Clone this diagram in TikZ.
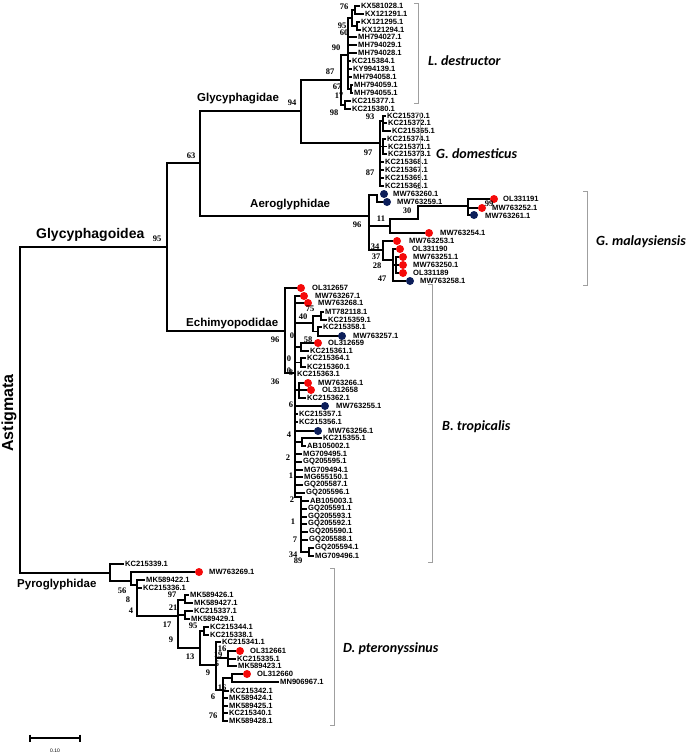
\documentclass[tikz,border=0pt]{standalone}
\usepackage{fontspec}
\setmainfont{Liberation Sans}
\newfontfamily\bsfont{Liberation Serif}
\newfontfamily\spfont{Carlito}
\definecolor{rdc}{RGB}{245,10,10}
\definecolor{bdc}{RGB}{12,30,90}
\newcounter{lfc}
\newcounter{bvc}
\newcommand\lf[3]{\stepcounter{lfc}\node[acc] (leaf\arabic{lfc}) at (#1,#2) {#3};}
\newcommand\bv[3]{\stepcounter{bvc}\node[bsl] (bv\arabic{bvc}) at (#1,#2) {#3};}
\newcommand\rd[2]{\fill[rdc] (#1,#2) circle[radius=4];}
\newcommand\bd[2]{\fill[bdc] (#1,#2) circle[radius=4];}
\begin{document}
\begin{tikzpicture}[x=1pt,y=-1pt,
  tr/.style={line width=1.2pt,line cap=rect},
  cb/.style={line width=2.3pt,line cap=rect},
  acc/.style={anchor=west,inner sep=0pt,font=\fontsize{7.6}{8}\selectfont\bfseries},
  bsl/.style={inner sep=0pt,font=\bsfont\fontsize{8.5}{9}\selectfont\bfseries},
  cl/.style={anchor=base west,inner sep=0pt,font=\fontsize{11.5}{12}\selectfont\bfseries},
  sp/.style={anchor=base west,inner sep=0pt,font=\spfont\fontsize{14}{15}\selectfont\bfseries\itshape},
  br/.style={draw=gray!75,line width=0.9pt}]
\useasboundingbox (0,0) rectangle (690,756);
\fill[white] (0,0) rectangle (690,756);

% ---------- backbone ----------
\draw[tr] (167,247) -- (20,247) -- (20,573) -- (110,573);
\draw[tr] (200,163) -- (167,163) -- (167,331) -- (285,331);
\draw[tr] (301,111) -- (200,111) -- (200,216) -- (369,216);
\draw[tr] (341,80) -- (301,80) -- (301,143) -- (380,143);

\node[cl,font=\fontsize{14}{15}\selectfont\bfseries] (glycoidea) at (36,238) {Glycyphagoidea};
\node[cl] (glycidae) at (197,101) {Glycyphagidae};
\node[cl] (aero) at (250,207) {Aeroglyphidae};
\node[cl] (echim) at (186,326) {Echimyopodidae};
\node[cl] (pyro) at (17,587) {Pyroglyphidae};
\node[inner sep=0pt,rotate=90,font=\fontsize{16}{17}\selectfont\bfseries] (astig) at (9,413) {Astigmata};
\bv{157}{239}{95}
\bv{191}{156}{63}
\bv{292}{103}{94}

% ---------- L. destructor ----------
\draw[tr] (341,55) -- (341,105);
\draw[tr] (341,55) -- (348,55);
\draw[tr] (348,18) -- (348,89);
\draw[cb] (348,62) -- (348,89);
\draw[tr] (348,18) -- (352,18) (352,10) -- (352,26);
\draw[tr] (352,10) -- (355,10) (355,6) -- (355,14) (355,6) -- (359,6) (355,14) -- (363,14);
\draw[tr] (352,26) -- (357,26);
\draw[cb] (357,22) -- (357,30);
\draw[tr] (357,22) -- (359,22) (357,30) -- (360,30);
\draw[tr] (348,37) -- (356,37) (348,45) -- (356,45) (348,53) -- (356,53);
\draw[tr] (348,61) -- (350,61) (348,69) -- (351,69) (348,77) -- (351,77);
\draw[tr] (348,89) -- (351,89) (351,85) -- (351,93) (351,85) -- (352,85) (351,93) -- (352,93);
\draw[tr] (341,105) -- (345,105) (345,101) -- (345,109) (345,101) -- (350,101) (345,109) -- (350,109);
\lf{361}{6}{KX581028.1}
\lf{365}{14}{KX121291.1}
\lf{361}{22}{KX121295.1}
\lf{362}{30}{KX121294.1}
\lf{358}{37}{MH794027.1}
\lf{358}{45}{MH794029.1}
\lf{358}{53}{MH794028.1}
\lf{352}{61}{KC215384.1}
\lf{353}{69}{KY994139.1}
\lf{353}{77}{MH794058.1}
\lf{354}{85}{MH794059.1}
\lf{354}{93}{MH794055.1}
\lf{352}{101}{KC215377.1}
\lf{352}{109}{KC215380.1}
\bv{344}{7}{76}
\bv{342}{26}{95}
\bv{344}{33}{60}
\bv{336}{48}{90}
\bv{330}{72}{87}
\bv{337}{87}{67}
\bv{339}{96}{17}
\bv{334}{113}{98}

% ---------- G. domesticus ----------
\draw[tr] (380,121) -- (380,186);
\draw[tr] (380,121) -- (383,121) (383,116) -- (383,131);
\draw[tr] (383,116) -- (385,116) (383,123) -- (386,123) (383,131) -- (390,131);
\draw[tr] (380,146.5) -- (383,146.5);
\draw[cb] (383,139) -- (383,154);
\draw[tr] (383,139) -- (385,139) (383,146.5) -- (386,146.5) (383,154) -- (386,154);
\draw[tr] (380,162) -- (383,162) (380,170) -- (383,170) (380,178) -- (383,178) (380,186) -- (383,186);
\lf{387}{116}{KC215370.1}
\lf{388}{123}{KC215372.1}
\lf{392}{131}{KC215365.1}
\lf{387}{139}{KC215374.1}
\lf{388}{146.5}{KC215371.1}
\lf{388}{154}{KC215373.1}
\lf{385}{162}{KC215368.1}
\lf{385}{170}{KC215367.1}
\lf{385}{178}{KC215369.1}
\lf{385}{186}{KC215366.1}
\bv{370}{117}{93}
\bv{368}{153}{97}
\bv{370}{173}{87}

% ---------- Aeroglyphidae ----------
\draw[tr] (369,195) -- (369,250);
\draw[tr] (369,195) -- (377,195) (377,195) -- (377,202) (377,202) -- (383,202);
\draw[tr] (369,226) -- (390,226) (390,219) -- (390,233);
\draw[tr] (390,219) -- (418,219) (418,206) -- (418,219);
\draw[tr] (418,206) -- (468,206) (468,199) -- (468,215);
\draw[tr] (468,199) -- (489,199) (468,208) -- (477,208) (468,215) -- (470,215);
\draw[tr] (390,233) -- (424,233);
\draw[tr] (369,250) -- (383,250) (383,241) -- (383,260) (383,241) -- (392,241);
\draw[tr] (383,260) -- (393,260) (393,249) -- (393,281) (393,249) -- (395,249);
\draw[tr] (393,265) -- (396,265) (396,257) -- (396,273);
\draw[tr] (396,257) -- (398,257) (396,265) -- (398,265) (396,273) -- (398,273);
\draw[tr] (393,281) -- (405,281);
\bd{384}{194} \bd{387}{202}
\rd{494}{199} \rd{482}{208} \bd{474}{215}
\rd{429}{233} \rd{397}{241} \rd{400}{249}
\rd{403}{257} \rd{403}{265} \rd{403}{273} \bd{410}{281}
\lf{393}{194}{MW763260.1}
\lf{397}{202}{MW763259.1}
\lf{503}{199}{OL331191}
\lf{492}{208}{MW763252.1}
\lf{485}{216}{MW763261.1}
\lf{440}{233}{MW763254.1}
\lf{409}{241}{MW763253.1}
\lf{412}{249}{OL331190}
\lf{413}{257}{MW763251.1}
\lf{413}{265}{MW763250.1}
\lf{413}{273}{OL331189}
\lf{420}{281}{MW763258.1}
\bv{407}{211}{30}
\bv{489}{204}{99}
\bv{381}{219}{11}
\bv{357}{225}{96}
\bv{375}{247}{34}
\bv{376}{257}{37}
\bv{377}{266}{28}
\bv{382}{279}{47}

% ---------- B. tropicalis ----------
\draw[tr] (285,288) -- (285,373);
\draw[tr] (285,288) -- (297,288);
\draw[tr] (285,373) -- (295,373);
\draw[tr] (295,296) -- (295,497);
\draw[cb] (295,335) -- (295,497);
\draw[tr] (295,296) -- (300,296) (295,303) -- (304,303);
\draw[tr] (295,323) -- (313,323) (313,316) -- (313,331.5);
\draw[tr] (313,316) -- (321,316) (321,312) -- (321,320) (321,312) -- (323,312) (321,320) -- (326,320);
\draw[tr] (313,331.5) -- (318,331.5) (318,327) -- (318,336) (318,327) -- (321,327) (318,336) -- (338,336);
\draw[tr] (295,347) -- (301,347) (301,343) -- (301,351) (301,343) -- (314,343) (301,351) -- (308,351);
\draw[tr] (295,362.5) -- (301,362.5) (301,358) -- (301,367) (301,358) -- (305,358) (301,367) -- (305,367);
\draw[tr] (295,390) -- (299,390) (299,383) -- (299,398) (299,383) -- (304,383) (299,390) -- (307,390) (299,398) -- (305,398);
\draw[tr] (295,406) -- (321,406);
\draw[tr] (295,414) -- (297,414) (295,422) -- (297,422);
\draw[tr] (295,431) -- (314,431);
\draw[tr] (295,442) -- (302,442) (302,438) -- (302,446) (302,438) -- (321,438) (302,446) -- (305,446);
\draw[tr] (295,454) -- (301,454) (295,462) -- (301,462) (295,470) -- (302,470) (295,477) -- (302,477) (295,485) -- (302,485) (295,493) -- (304,493);
\draw[tr] (295,497) -- (301,497);
\draw[cb] (301,497) -- (301,552);
\draw[tr] (301,501) -- (308,501) (301,509) -- (306,509) (301,517) -- (306,517) (301,524) -- (306,524) (301,532) -- (307,532) (301,540) -- (307,540);
\draw[tr] (301,552) -- (309,552) (309,548) -- (309,556) (309,548) -- (313,548) (309,556) -- (313,556);
\rd{301}{288} \rd{304}{296} \rd{308}{303}
\bd{342}{336} \rd{318}{343}
\rd{308}{383} \rd{311}{390} \bd{325}{406} \bd{318}{431}
\lf{312}{288}{OL312657}
\lf{315}{296}{MW763267.1}
\lf{318}{303}{MW763268.1}
\lf{325}{312}{MT782118.1}
\lf{328}{320}{KC215359.1}
\lf{323}{327}{KC215358.1}
\lf{353}{336}{MW763257.1}
\lf{328}{343}{OL312659}
\lf{310}{351}{KC215361.1}
\lf{307}{358}{KC215364.1}
\lf{307}{367}{KC215360.1}
\lf{297}{374}{KC215363.1}
\lf{318}{383}{MW763266.1}
\lf{322}{390}{OL312658}
\lf{307}{398}{KC215362.1}
\lf{336}{406}{MW763255.1}
\lf{299}{414}{KC215357.1}
\lf{299}{422}{KC215356.1}
\lf{328}{431}{MW763256.1}
\lf{323}{438}{KC215355.1}
\lf{307}{446}{AB105002.1}
\lf{303}{454}{MG709495.1}
\lf{303}{462}{GQ205595.1}
\lf{304}{470}{MG709494.1}
\lf{304}{477}{MG655150.1}
\lf{304}{485}{GQ205587.1}
\lf{306}{493}{GQ205596.1}
\lf{310}{501}{AB105003.1}
\lf{308}{509}{GQ205591.1}
\lf{308}{517}{GQ205593.1}
\lf{308}{524}{GQ205592.1}
\lf{309}{532}{GQ205590.1}
\lf{309}{540}{GQ205588.1}
\lf{315}{548}{GQ205594.1}
\lf{315}{556}{MG709496.1}
\bv{275}{340}{96}
\bv{310}{309}{75}
\bv{303}{317}{40}
\bv{292}{336}{0}
\bv{308}{340}{58}
\bv{289}{359}{0}
\bv{289}{371}{0}
\bv{291}{373}{8}
\bv{275}{382}{36}
\bv{291}{405}{6}
\bv{289}{435}{4}
\bv{288}{458}{2}
\bv{291}{476}{1}
\bv{292}{500}{2}
\bv{293}{522}{1}
\bv{295}{540}{7}
\bv{293}{555}{34}
\bv{298}{561}{89}

% ---------- Pyroglyphidae ----------
\draw[tr] (110,564) -- (110,581) (110,564) -- (123,564) (110,581) -- (131,581);
\draw[tr] (131,572) -- (131,585) (131,572) -- (194,572) (131,585) -- (137,585);
\draw[tr] (137,580) -- (137,616);
\draw[cb] (137,588) -- (137,605);
\draw[tr] (137,580) -- (144,580) (137,588) -- (141,588) (137,616) -- (178,616);
\draw[cb] (178,600) -- (178,648);
\draw[tr] (178,600) -- (185,600) (185,595) -- (185,603) (185,595) -- (188,595) (185,603) -- (192,603);
\draw[tr] (178,615) -- (185,615) (185,611) -- (185,619) (185,611) -- (192,611) (185,619) -- (189,619);
\draw[tr] (178,648) -- (200,648) (200,631) -- (200,665);
\draw[tr] (200,631) -- (204,631) (204,627) -- (204,635) (204,627) -- (208,627) (204,635) -- (208,635);
\draw[tr] (200,665) -- (216,665);
\draw[cb] (216,642) -- (216,690);
\draw[tr] (216,642) -- (220,642);
\draw[tr] (216,658) -- (228,658) (228,651) -- (228,666) (228,651) -- (235,651) (228,659) -- (235,659) (228,666) -- (236,666);
\draw[tr] (216,690) -- (223,690) (223,678) -- (223,721);
\draw[tr] (223,678) -- (232,678) (232,674) -- (232,682) (232,674) -- (242,674) (232,682) -- (278,682);
\draw[tr] (223,691) -- (228,691) (223,698) -- (227,698) (223,706) -- (227,706) (223,713) -- (227,713) (223,721) -- (227,721);
\rd{199}{572} \rd{240}{651} \rd{247}{674}
\lf{125}{564}{KC215339.1}
\lf{209}{572}{MW763269.1}
\lf{146}{580}{MK589422.1}
\lf{143}{588}{KC215336.1}
\lf{190}{595}{MK589426.1}
\lf{194}{603}{MK589427.1}
\lf{194}{611}{KC215337.1}
\lf{191}{619}{MK589429.1}
\lf{210}{627}{KC215344.1}
\lf{210}{635}{KC215338.1}
\lf{222}{642}{KC215341.1}
\lf{250}{651}{OL312661}
\lf{237}{659}{KC215335.1}
\lf{238}{666}{MK589423.1}
\lf{257}{674}{OL312660}
\lf{280}{682}{MN906967.1}
\lf{230}{691}{KC215342.1}
\lf{229}{698}{MK589424.1}
\lf{229}{706}{MK589425.1}
\lf{229}{713}{KC215340.1}
\lf{229}{721}{MK589428.1}
\bv{122}{591}{56}
\bv{128}{600}{8}
\bv{131}{611}{4}
\bv{172}{595}{97}
\bv{173}{608}{21}
\bv{167}{625}{17}
\bv{171}{640}{9}
\bv{193}{626}{95}
\bv{190}{657}{13}
\bv{208}{673}{9}
\bv{222}{649}{16}
\bv{218}{655}{19}
\bv{217}{664}{5}
\bv{222}{688}{16}
\bv{213}{697}{6}
\bv{213}{716}{76}

% ---------- brackets and species ----------
\draw[br] (414,3) -- (418,3) -- (418,103) -- (414,103);
\draw[br] (416,113) -- (420,113) -- (420,188) -- (416,188);
\draw[br] (583,191) -- (587,191) -- (587,285) -- (583,285);
\draw[br] (428,284) -- (432,284) -- (432,562) -- (428,562);
\draw[br] (330,568) -- (334,568) -- (334,725) -- (330,725);
\node[sp] (sp1) at (428,65) {L. destructor};
\node[sp] (sp2) at (436,158) {G. domesticus};
\node[sp] (sp3) at (596,245) {G. malaysiensis};
\node[sp] (sp4) at (442,430) {B. tropicalis};
\node[sp] (sp5) at (343,652) {D. pteronyssinus};

% ---------- scale bar ----------
\draw[line width=1.6pt] (30,738) -- (80,738);
\draw[line width=1.2pt] (30,734.5) -- (30,741.5) (80,734.5) -- (80,741.5);
\node[inner sep=0pt,font=\fontsize{5}{6}\selectfont] (scl) at (55,751) {0.10};
\end{tikzpicture}
\end{document}
